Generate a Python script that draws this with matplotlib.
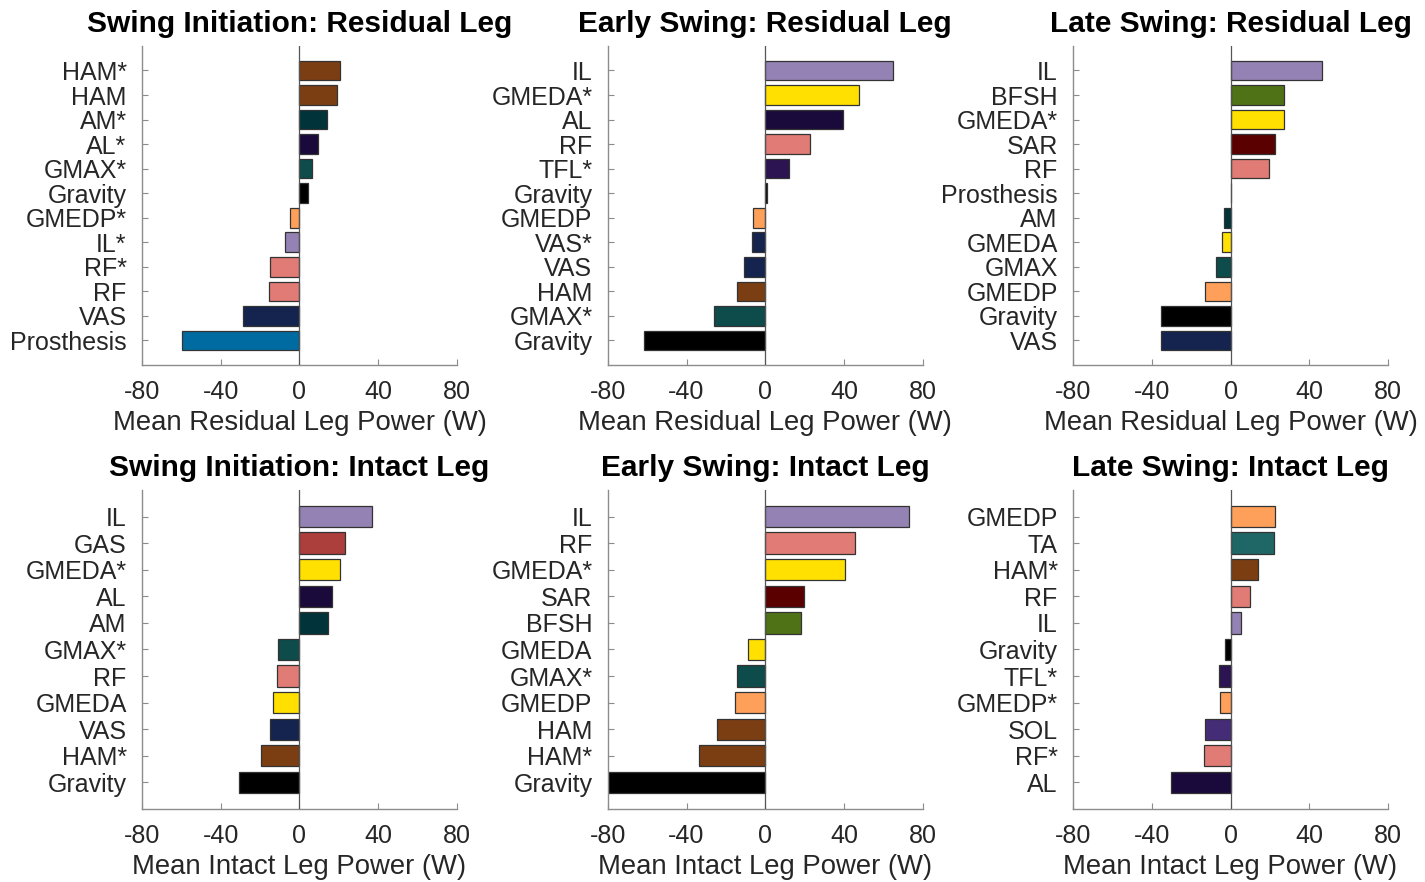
import matplotlib
matplotlib.use("Agg")
import matplotlib.pyplot as plt

plt.rcParams['font.family'] = ['Liberation Sans', 'DejaVu Sans']
plt.rcParams['axes.unicode_minus'] = False

# muscle colours
COLORS = {
    "HAM": "#7a3e12", "AM": "#00343a", "AL": "#1a0a3c", "GMAX": "#0e4b4b",
    "Gravity": "#000000", "GMEDP": "#ffa05a", "IL": "#9482b4", "RF": "#e07b75",
    "VAS": "#14244f", "Prosthesis": "#006ba0", "GMEDA": "#ffe000",
    "TFL": "#2b1451", "BFSH": "#4e7215", "SAR": "#5a0000", "GAS": "#ac3e3c",
    "TA": "#1f6766", "SOL": "#452c76",
}

# Residual leg, swing initiation
res_si_labels = ["HAM*", "HAM", "AM*", "AL*", "GMAX*", "Gravity", "GMEDP*", "IL*",
                 "RF*", "RF", "VAS", "Prosthesis"]
res_si_power = [20.7, 19.3, 13.9, 9.6, 6.6, 4.2, -4.6, -7.1, -14.9, -15.6, -28.6, -59.4]

# Residual leg, early swing
res_es_labels = ["IL", "GMEDA*", "AL", "RF", "TFL*", "Gravity", "GMEDP", "VAS*",
                 "VAS", "HAM", "GMAX*", "Gravity"]
res_es_power = [65.0, 47.7, 39.6, 22.5, 12.0, 0.9, -6.1, -6.8, -10.8, -14.4, -26.1, -61.5]

# Residual leg, late swing
res_ls_labels = ["IL", "BFSH", "GMEDA*", "SAR", "RF", "Prosthesis", "AM", "GMEDA",
                 "GMAX", "GMEDP", "Gravity", "VAS"]
res_ls_power = [46.2, 27.3, 27.1, 22.6, 19.7, 0.1, -3.5, -4.2, -7.4, -13.2, -35.2, -35.2]

# Intact leg, swing initiation
int_si_labels = ["IL", "GAS", "GMEDA*", "AL", "AM", "GMAX*", "RF", "GMEDA", "VAS",
                 "HAM*", "Gravity"]
int_si_power = [36.7, 23.2, 20.7, 16.4, 14.7, -11.0, -11.2, -13.4, -15.1, -19.3, -30.8]

# Intact leg, early swing
int_es_labels = ["IL", "RF", "GMEDA*", "SAR", "BFSH", "GMEDA", "GMAX*", "GMEDP",
                 "HAM", "HAM*", "Gravity"]
int_es_power = [73.0, 45.4, 40.6, 19.6, 18.3, -9.0, -14.6, -15.2, -24.7, -33.7, -80.0]

# Intact leg, late swing
int_ls_labels = ["GMEDP", "TA", "HAM*", "RF", "IL", "Gravity", "TFL*", "GMEDP*",
                 "SOL", "RF*", "AL"]
int_ls_power = [22.4, 21.9, 13.7, 10.1, 5.2, -3.0, -5.7, -5.6, -13.0, -13.3, -30.2]

panels = [
    ("Swing Initiation: Residual Leg", res_si_labels, res_si_power, "Mean Residual Leg Power (W)"),
    ("Early Swing: Residual Leg", res_es_labels, res_es_power, "Mean Residual Leg Power (W)"),
    ("Late Swing: Residual Leg", res_ls_labels, res_ls_power, "Mean Residual Leg Power (W)"),
    ("Swing Initiation: Intact Leg", int_si_labels, int_si_power, "Mean Intact Leg Power (W)"),
    ("Early Swing: Intact Leg", int_es_labels, int_es_power, "Mean Intact Leg Power (W)"),
    ("Late Swing: Intact Leg", int_ls_labels, int_ls_power, "Mean Intact Leg Power (W)"),
]

fig = plt.figure(figsize=(14.25, 8.82), dpi=100)
lefts = [0.0996, 0.4265, 0.7530]
bottoms = [0.5862, 0.0828]
w, h = 0.2211, 0.3617

tick_col = "#262626"
spine_col = "#8c8c8c"

for i, (title, labels, power, xlabel) in enumerate(panels):
    ax = fig.add_axes([lefts[i % 3], bottoms[i // 3], w, h])
    n = len(labels)
    ypos = list(range(n, 0, -1))
    cols = [COLORS[lab.rstrip("*")] for lab in labels]
    ax.barh(ypos, power, height=0.8, color=cols, edgecolor="#333333", linewidth=0.9, zorder=2)
    ax.axvline(0, color="#555555", linewidth=0.9, zorder=3)

    ax.set_xlim(-80, 80)
    ax.set_ylim(0, n + 1)
    ax.set_xticks([-80, -40, 0, 40, 80])
    ax.set_yticks(ypos)
    ax.set_yticklabels(labels)
    ax.tick_params(direction="in", length=4, width=0.8, color=spine_col,
                   labelsize=18, labelcolor=tick_col)
    ax.tick_params(axis="y", pad=11)
    ax.tick_params(axis="x", pad=11)
    for s in ["top", "right"]:
        ax.spines[s].set_visible(False)
    for s in ["left", "bottom"]:
        ax.spines[s].set_color(spine_col)
        ax.spines[s].set_linewidth(1.0)
    ax.set_xlabel(xlabel, fontsize=19.8, color=tick_col, labelpad=4)
    ax.set_title(title, fontsize=21.5, fontweight="bold", pad=10)

fig.savefig("out.png", dpi=100)
